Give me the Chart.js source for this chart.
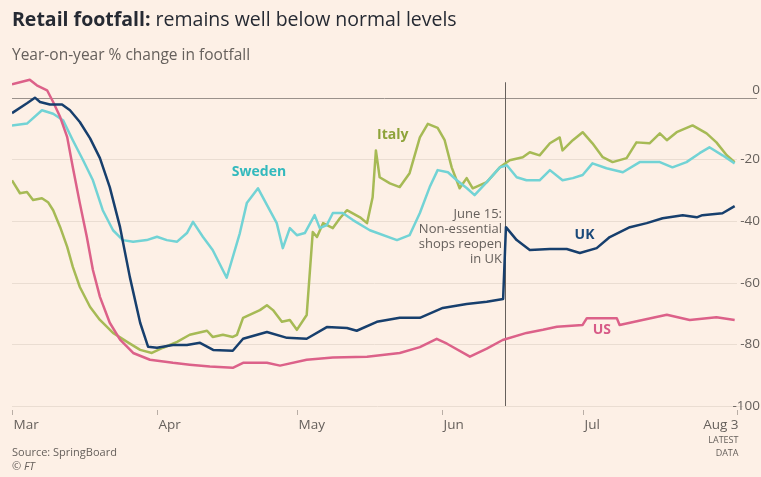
<!DOCTYPE html>
<html>
<head>
<meta charset="utf-8">
<script src="https://cdn.jsdelivr.net/npm/chart.js@4.4.0/dist/chart.umd.min.js"></script>
<style>
  html, body { margin: 0; padding: 0; background: #fdf0e6; }
  #wrap { position: relative; width: 761px; height: 477px; }
</style>
</head>
<body>
<div id="wrap"><canvas id="chart" width="761" height="477"></canvas></div>
<script>
// days counted from 1 March
const monthTicks = [0, 31, 61, 92, 122, 155];
const monthLabels = ['Mar', 'Apr', 'May', 'Jun', 'Jul', 'Aug 3'];
const yTicks = [0, -20, -40, -60, -80, -100];

const ukDays = [0, 3.2, 4.9, 6, 8.1, 10.7, 12.4, 14.5, 16.7, 18.8, 20.9, 23.1, 25.2, 27.4, 29.1, 31, 34.4, 37.4, 40.2, 43, 47.2, 49.4, 54.5, 58.8, 63, 67.3, 71.6, 73.7, 78, 82.9, 87.2, 92.1, 97.2, 101.5, 105, 105.6, 107.9, 110.7, 115, 118.6, 121.4, 125, 127.8, 132.1, 135.7, 139.1, 143.4, 146.4, 147.6, 151.9, 154.5];
const ukValues = [-5, -1.8, 0, -1.4, -2.2, -2.2, -4.1, -7.9, -13.2, -19.6, -29, -42, -58.2, -73, -80.8, -81.1, -80.2, -80.2, -79.5, -81.8, -82.1, -78.2, -76, -77.9, -78.2, -74.4, -74.7, -75.6, -72.7, -71.4, -71.4, -68.2, -66.9, -66.2, -65.3, -42, -46.2, -49.4, -49.1, -49.1, -50.4, -48.8, -45.2, -42, -40.7, -39.1, -38.1, -38.8, -38.1, -37.5, -35.2];

const usDays = [0, 3.8, 5.3, 7.5, 8.8, 10.3, 11.8, 13, 14.5, 16, 17.3, 18.8, 20.9, 23.1, 25.9, 29.5, 34.4, 38, 42.3, 47.2, 49.4, 54.5, 57.3, 63, 68.6, 75.9, 82.9, 87.2, 90.8, 93, 97.9, 101.5, 104.9, 110, 113.5, 116.5, 122, 122.9, 129.3, 129.9, 134.8, 140, 144.9, 150.6, 154.5];
const usValues = [4.3, 5.8, 4, 2.4, -1.4, -6.3, -12.8, -22.6, -34.2, -45.2, -55.9, -64.6, -73, -78.5, -82.8, -85, -86, -86.6, -87.2, -87.6, -86, -86, -86.9, -85, -84.3, -84, -82.8, -80.9, -78.2, -79.8, -84, -81.4, -78.6, -76.3, -75.3, -74.3, -73.7, -71.5, -71.5, -73.7, -72.1, -70.4, -72.1, -71.2, -72.1];

const swedenDays = [0, 3.2, 6.4, 8.8, 10.9, 13, 15.2, 17.3, 19.4, 21.6, 23.7, 25.9, 28.8, 31, 33.1, 35.3, 37.4, 38.7, 40.8, 42.9, 45.9, 48.7, 50.2, 52.6, 55.1, 56.6, 57.9, 59.4, 60.9, 62.6, 64.7, 65.8, 67.3, 68.6, 70.7, 72.9, 76.5, 82.3, 85, 87.2, 89.3, 91, 93.2, 95.1, 97.2, 98.9, 101.5, 104.3, 105.8, 107.9, 110, 112.8, 115, 117.7, 119.9, 122, 124.1, 127.1, 130.6, 134.2, 138.5, 141.2, 144.2, 147, 149.1, 151.9, 154.5];
const swedenValues = [-9, -8.4, -4.1, -5.2, -7.3, -13.8, -20.3, -26.8, -36.5, -43, -46.2, -46.7, -46.2, -45.1, -46.2, -46.7, -43.9, -40.3, -45.1, -49.4, -58.4, -44, -34.2, -29.4, -36.5, -40.7, -48.8, -42.3, -44.6, -43.9, -38.1, -42.3, -41.3, -37.4, -37.4, -39.7, -43, -46.2, -44.6, -37.4, -29, -23.5, -24.2, -26.8, -29.3, -31.6, -27.4, -22.6, -21.9, -25.8, -26.8, -26.8, -23.5, -26.8, -26.1, -25.1, -21.3, -22.9, -24.2, -20.9, -20.9, -22.6, -20.9, -18, -16.1, -18.7, -21.3];

const italyDays = [0, 1.7, 3.2, 4.5, 6.4, 7.7, 8.8, 10.3, 11.8, 13, 14.5, 16.7, 18.8, 21.6, 24.6, 27.4, 29.9, 32.3, 35.3, 38, 41.7, 42.9, 45.1, 47.2, 48.1, 49.4, 53, 54.5, 55.8, 57.7, 59.4, 60.9, 63, 64.3, 65.2, 66.5, 68.6, 70.1, 71.6, 74.4, 75.9, 77.1, 77.8, 78.6, 80.8, 82.9, 85, 87.2, 88.9, 91, 92.5, 94, 95.7, 97.2, 98.5, 101.5, 104.3, 106.4, 109.2, 110.7, 112.8, 115, 117.1, 117.7, 119.9, 122, 124.1, 126.3, 128.4, 131.4, 133.5, 136.3, 138.5, 140, 142.1, 145.5, 148.5, 150.6, 152.8, 154.5];
const italyValues = [-26.8, -31, -30.6, -33.2, -32.6, -33.9, -36.5, -42, -48.4, -54.9, -61.4, -67.9, -72.1, -76.3, -79.2, -81.8, -82.8, -81.1, -79.2, -76.9, -75.6, -77.6, -76.9, -77.6, -76.9, -71.4, -68.9, -67.3, -68.9, -72.7, -72.1, -75.3, -70.5, -43.6, -45.2, -40.7, -42.3, -39.1, -36.5, -38.8, -40.7, -32.3, -17.1, -25.8, -27.8, -29, -24.5, -12.9, -8.5, -9.8, -13.8, -22.6, -29.4, -26.1, -29.4, -27.4, -22.6, -20.3, -19.3, -17.7, -18.7, -14.8, -12.9, -17.1, -13.8, -11.2, -14.8, -19.3, -20.9, -19.6, -14.5, -14.8, -11.6, -13.8, -11.2, -9, -11.6, -14.5, -18.7, -20.9];

const reopenDay = 105.4;

const FONT = '"Open Sans", "Noto Sans", sans-serif';
const GREY = '#66605c';

const toPoints = (xs, ys) => xs.map((x, i) => ({ x: x, y: ys[i] }));

// series labels placed in data coordinates
const seriesLabels = [
  { text: 'Sweden', x: 52.8, y: -24.2, color: '#33b9bd' },
  { text: 'Italy', x: 81.4, y: -12.2, color: '#8ea33a' },
  { text: 'UK', x: 122.4, y: -44.5, color: '#1b4a7a' },
  { text: 'US', x: 126.1, y: -75.3, color: '#d75a87' }
];
const noteLines = ['June 15:', 'Non-essential', 'shops reopen', 'in UK'];

const ftPlugin = {
  id: 'ftDecor',
  beforeDatasetsDraw(chart) {
    const ctx = chart.ctx;
    const xs = chart.scales.x, ys = chart.scales.y;
    const area = chart.chartArea;
    ctx.save();
    // horizontal grid
    yTicks.forEach(v => {
      const y = Math.round(ys.getPixelForValue(v)) + 0.5;
      ctx.beginPath();
      ctx.lineWidth = 1;
      if (v === 0) {
        ctx.strokeStyle = '#9a918b';
        ctx.moveTo(area.left, y); ctx.lineTo(757, y);
      } else {
        ctx.strokeStyle = '#eaddd2';
        ctx.moveTo(area.left, y); ctx.lineTo(area.right + (v === -100 ? 6 : 0), y);
      }
      ctx.stroke();
    });
    // June 15 marker
    const rx = Math.round(xs.getPixelForValue(reopenDay)) + 0.5;
    ctx.beginPath();
    ctx.strokeStyle = GREY;
    ctx.lineWidth = 1;
    ctx.moveTo(rx, ys.getPixelForValue(5)); ctx.lineTo(rx, ys.getPixelForValue(-100));
    ctx.stroke();
    // x ticks + labels
    ctx.fillStyle = GREY;
    ctx.strokeStyle = '#b9aea6';
    const base = ys.getPixelForValue(-100);
    monthTicks.forEach((d, i) => {
      const x = Math.round(xs.getPixelForValue(d)) + 0.5;
      ctx.beginPath();
      ctx.moveTo(x, base + 4); ctx.lineTo(x, base + 9);
      ctx.stroke();
      ctx.font = '13.5px ' + FONT;
      ctx.textBaseline = 'middle';
      if (i === monthTicks.length - 1) {
        ctx.textAlign = 'right';
        ctx.fillText(monthLabels[i], x + 1, base + 19);
        ctx.font = '9px ' + FONT;
        ctx.fillText('LATEST', x + 1, base + 34);
        ctx.fillText('DATA', x + 1, base + 47);
      } else {
        ctx.textAlign = 'left';
        ctx.fillText(monthLabels[i], x + 1, base + 19);
      }
    });
    // y labels on the right
    ctx.font = '13.5px ' + FONT;
    ctx.textAlign = 'right';
    ctx.textBaseline = 'middle';
    yTicks.forEach(v => {
      const y = ys.getPixelForValue(v);
      ctx.fillText(String(v), 760, v === 0 ? y - 8 : y);
    });
    ctx.restore();
  },
  afterDatasetsDraw(chart) {
    const ctx = chart.ctx;
    const xs = chart.scales.x, ys = chart.scales.y;
    ctx.save();
    ctx.textAlign = 'center';
    ctx.textBaseline = 'middle';
    ctx.font = 'bold 14px ' + FONT;
    seriesLabels.forEach(l => {
      ctx.fillStyle = l.color;
      ctx.fillText(l.text, xs.getPixelForValue(l.x), ys.getPixelForValue(l.y));
    });
    ctx.font = '13px ' + FONT;
    ctx.fillStyle = GREY;
    ctx.textAlign = 'right';
    const nx = xs.getPixelForValue(reopenDay) - 3;
    noteLines.forEach((t, i) => {
      ctx.fillText(t, nx, 214 + i * 15);
    });
    // title block
    ctx.textAlign = 'left';
    ctx.textBaseline = 'alphabetic';
    ctx.fillStyle = '#262a33';
    ctx.font = 'bold 19.5px ' + FONT;
    const head = 'Retail footfall:';
    ctx.fillText(head, 12, 26);
    const w = ctx.measureText(head).width;
    ctx.font = '19.5px ' + FONT;
    ctx.fillText(' remains well below normal levels', 12 + w, 26);
    ctx.fillStyle = GREY;
    ctx.font = '15.5px ' + FONT;
    ctx.fillText('Year-on-year % change in footfall', 12, 60);
    ctx.font = '11px ' + FONT;
    ctx.fillText('Source: SpringBoard', 12, 456);
    ctx.font = 'italic 11px ' + FONT;
    ctx.fillText('\u00A9 FT', 12, 470);
    ctx.restore();
  }
};

const line = (label, pts, color) => ({
  label: label,
  data: pts,
  borderColor: color,
  borderWidth: 2.5,
  pointRadius: 0,
  tension: 0,
  borderJoinStyle: 'round',
  fill: false
});

new Chart(document.getElementById('chart'), {
  type: 'line',
  data: {
    datasets: [
      line('UK', toPoints(ukDays, ukValues), '#173f6d'),
      line('US', toPoints(usDays, usValues), '#dc6189'),
      line('Sweden', toPoints(swedenDays, swedenValues), '#72d3d5'),
      line('Italy', toPoints(italyDays, italyValues), '#a6ba55')
    ]
  },
  options: {
    responsive: false,
    animation: false,
    layout: { padding: { left: 12, right: 24, top: 73, bottom: 71 } },
    plugins: { legend: { display: false }, tooltip: { enabled: false } },
    scales: {
      x: { type: 'linear', min: 0, max: 155, display: false },
      y: { type: 'linear', min: -100, max: 8, display: false }
    }
  },
  plugins: [ftPlugin]
});
</script>
</body>
</html>
